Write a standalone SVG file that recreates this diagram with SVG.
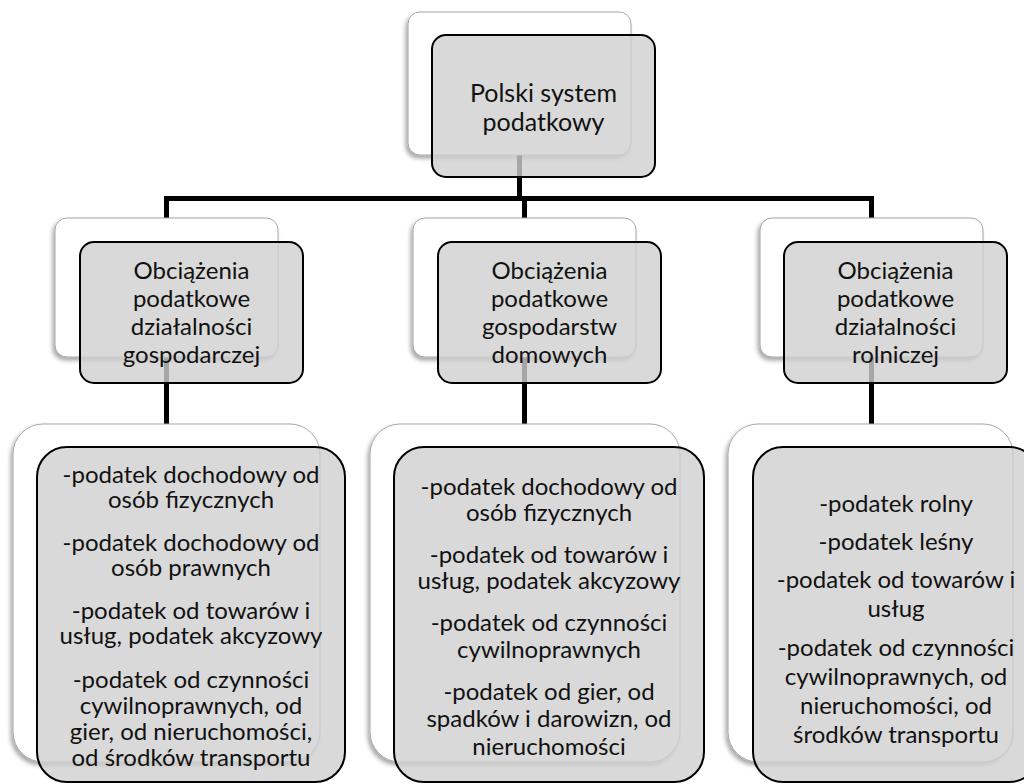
<svg xmlns="http://www.w3.org/2000/svg" width="1024" height="784" viewBox="0 0 1024 784">
<style>
  .back { fill: #ffffff; stroke: #a6a6a6; stroke-width: 1; filter: url(#sh); }
  .front { fill: #cfcfcf; fill-opacity: 0.8; stroke: #000000; stroke-width: 2; }
  .conn { stroke: #000000; stroke-width: 5; fill: none; }
  text { font-family: Lato, "Liberation Sans", sans-serif; font-size: 24px; fill: #111111; text-anchor: middle; }
  .t1 { font-size: 25px; }
</style>
<defs>
  <filter id="sh" x="-10%" y="-10%" width="120%" height="125%">
    <feDropShadow dx="-2" dy="3" stdDeviation="2" flood-color="#000000" flood-opacity="0.35"/>
  </filter>
</defs>
<rect x="0" y="0" width="1024" height="784" fill="#ffffff"/>
<g id="connectors">
  <path class="conn" d="M519.5 150 V198.5"/>
  <path class="conn" d="M164 198.5 H874"/>
  <path class="conn" d="M166.5 198.5 V222"/>
  <path class="conn" d="M524.5 198.5 V222"/>
  <path class="conn" d="M871.5 198.5 V222"/>
  <path class="conn" d="M166.5 350 V428"/>
  <path class="conn" d="M524.5 350 V428"/>
  <path class="conn" d="M871.5 350 V428"/>
</g>
<g id="node-root">
  <rect class="back" x="408" y="12" width="223" height="143" rx="12"/>
  <rect class="front" x="432" y="35" width="223" height="142" rx="14"/>
  <text class="t1" x="543.5" y="102">Polski system</text>
  <text class="t1" x="543.5" y="131">podatkowy</text>
</g>
<g id="node-gosp">
  <rect class="back" x="55" y="218" width="223" height="139" rx="12"/>
  <rect class="front" x="80" y="242" width="223" height="141" rx="14"/>
  <text x="191.5" y="279">Obciążenia</text>
  <text x="191.5" y="307">podatkowe</text>
  <text x="191.5" y="335">działalności</text>
  <text x="191.5" y="363">gospodarczej</text>
</g>
<g id="node-dom">
  <rect class="back" x="413" y="218" width="223" height="139" rx="12"/>
  <rect class="front" x="438" y="242" width="223" height="141" rx="14"/>
  <text x="549.5" y="279">Obciążenia</text>
  <text x="549.5" y="307">podatkowe</text>
  <text x="549.5" y="335">gospodarstw</text>
  <text x="549.5" y="363">domowych</text>
</g>
<g id="node-rol">
  <rect class="back" x="760" y="218" width="223" height="139" rx="12"/>
  <rect class="front" x="784" y="242" width="223" height="141" rx="14"/>
  <text x="895.5" y="279">Obciążenia</text>
  <text x="895.5" y="307">podatkowe</text>
  <text x="895.5" y="335">działalności</text>
  <text x="895.5" y="363">rolniczej</text>
</g>
<g id="list-gosp">
  <rect class="back" x="13" y="424" width="307" height="338" rx="30"/>
  <rect class="front" x="37" y="447" width="308" height="335" rx="30"/>
  <text x="191" y="483">-podatek dochodowy od</text>
  <text x="191" y="508">osób fizycznych</text>
  <text x="191" y="551">-podatek dochodowy od</text>
  <text x="191" y="576">osób prawnych</text>
  <text x="191" y="619">-podatek od towarów i</text>
  <text x="191" y="644">usług, podatek akcyzowy</text>
  <text x="191" y="688">-podatek od czynności</text>
  <text x="191" y="714">cywilnoprawnych, od</text>
  <text x="191" y="740">gier, od nieruchomości,</text>
  <text x="191" y="766">od środków transportu</text>
</g>
<g id="list-dom">
  <rect class="back" x="370" y="424" width="310" height="338" rx="30"/>
  <rect class="front" x="394" y="447" width="310" height="335" rx="30"/>
  <text x="549" y="495">-podatek dochodowy od</text>
  <text x="549" y="521">osób fizycznych</text>
  <text x="549" y="563">-podatek od towarów i</text>
  <text x="549" y="589">usług, podatek akcyzowy</text>
  <text x="549" y="631">-podatek od czynności</text>
  <text x="549" y="658">cywilnoprawnych</text>
  <text x="549" y="700">-podatek od gier, od</text>
  <text x="549" y="727">spadków i darowizn, od</text>
  <text x="549" y="755">nieruchomości</text>
</g>
<g id="list-rol">
  <rect class="back" x="728" y="424" width="285" height="338" rx="30"/>
  <rect class="front" x="753" y="447" width="286" height="335" rx="30"/>
  <text x="896" y="512">-podatek rolny</text>
  <text x="896" y="550">-podatek leśny</text>
  <text x="896" y="588">-podatek od towarów i</text>
  <text x="896" y="617">usług</text>
  <text x="896" y="656">-podatek od czynności</text>
  <text x="896" y="685">cywilnoprawnych, od</text>
  <text x="896" y="714">nieruchomości, od</text>
  <text x="896" y="743">środków transportu</text>
</g>
</svg>
